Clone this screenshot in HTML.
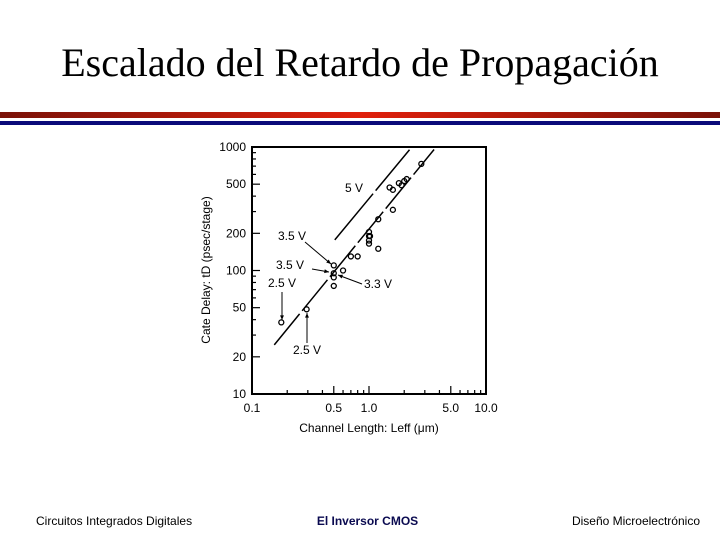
<!DOCTYPE html>
<html><head><meta charset="utf-8"><style>
html,body{margin:0;padding:0;background:#fff}
body{width:720px;height:540px;position:relative;overflow:hidden;font-family:"Liberation Sans",sans-serif}
#title{position:absolute;left:0;top:39px;width:720px;text-align:center;font-family:"Liberation Serif",serif;font-size:40px;color:#000}
.bar1{position:absolute;left:0;top:112px;width:720px;height:6px;background:linear-gradient(90deg,#7a1208,#e0200c 50%,#7a1208)}
.bar2{position:absolute;left:0;top:121px;width:720px;height:4px;background:#0a0a7a}
.foot{position:absolute;top:514px;font-size:12px;color:#000}
svg{position:absolute;left:0;top:0}
</style></head><body>
<div id="title">Escalado del Retardo de Propagación</div>
<div class="bar1"></div>
<div class="bar2"></div>
<div class="foot" style="left:36px">Circuitos Integrados Digitales</div>
<div class="foot" style="left:0;width:735px;text-align:center;font-weight:bold;color:#0a0a50">El Inversor CMOS</div>
<div class="foot" style="right:20px">Diseño Microelectrónico</div>
<svg id="chart" width="720" height="540"></svg>
<script>
const xTicks=[0.1,0.5,1.0,5.0,10.0];
const xTickLabels=["0.1","0.5","1.0","5.0","10.0"];
const yTicks=[10,20,50,100,200,500,1000];
const yTickLabels=["10","20","50","100","200","500","1000"];
const ptX=[0.178,0.293,0.5,0.5,0.5,0.5,0.6,0.7,0.8,1.0,1.0,1.02,1.0,1.0,1.2,1.2,1.5,1.6,1.6,1.8,1.9,2.0,2.1,2.8];
const ptY=[38,48.5,110,95,88,75,100,130,130,190,205,190,175,165,150,260,470,450,310,510,490,530,550,730];
const fitX=[0.155,3.6];
const fitY=[25,955];
const v5X=[0.51,2.22];
const v5Y=[177,950];
const L=252,R=486,T=147,B=394;
const sx=v=>L+(R-L)/2*(Math.log10(v)+1);
const sy=v=>B-(B-T)/2*(Math.log10(v)-1);
const NS="http://www.w3.org/2000/svg";
const svg=document.getElementById('chart');
function mk(t,a){const e=document.createElementNS(NS,t);for(const k in a)e.setAttribute(k,a[k]);svg.appendChild(e);return e;}
let e=mk('rect',{x:L,y:T,width:R-L,height:B-T,fill:'none',stroke:'#000','stroke-width':2});

for(let d=0.1;d<10;d*=10){for(let m=1;m<10;m++){const v=d*m;const x=sx(v);const len=(m==1||m==5)?8:4;
mk('line',{x1:x,x2:x,y1:B,y2:B-len,stroke:'#000','stroke-width':1.2});}}
for(let d=10;d<1000;d*=10){for(let m=1;m<10;m++){const v=d*m;const y=sy(v);const len=(m==1||m==2||m==5)?8:4;
mk('line',{x1:L,x2:L+len,y1:y,y2:y,stroke:'#000','stroke-width':1.2});}}
xTicks.forEach((v,i)=>{e=mk('text',{x:sx(v),y:B+18,'text-anchor':'middle','font-size':12,'font-family':'Liberation Sans'});e.textContent=xTickLabels[i];
});
yTicks.forEach((v,i)=>{e=mk('text',{x:L-6,y:sy(v)+4,'text-anchor':'end','font-size':12,'font-family':'Liberation Sans'});e.textContent=yTickLabels[i];
});
e=mk('text',{x:369,y:432,'text-anchor':'middle','font-size':12});e.textContent='Channel Length: Leff (μm)';

e=mk('text',{x:210,y:270,'text-anchor':'middle','font-size':12,transform:'rotate(-90 210 270)'});e.textContent='Cate Delay: tD (psec/stage)';

e=mk('line',{x1:sx(fitX[0]),y1:sy(fitY[0]),x2:sx(fitX[1]),y2:sy(fitY[1]),stroke:'#000','stroke-width':1.5,'stroke-dasharray':'40 4'});

e=mk('line',{x1:sx(v5X[0]),y1:sy(v5Y[0]),x2:sx(v5X[1]),y2:sy(v5Y[1]),stroke:'#000','stroke-width':1.5,'stroke-dasharray':'60 4'});

ptX.forEach((v,i)=>{e=mk('circle',{cx:sx(v),cy:sy(ptY[i]),r:2.5,fill:'none',stroke:'#000','stroke-width':1.3});
});
const labels=[["5 V",345,192],["3.5 V",278,240],["3.5 V",276,269],["2.5 V",268,287],["3.3 V",364,288],["2.5 V",293,354]];
labels.forEach(l=>{e=mk('text',{x:l[1],y:l[2],'font-size':12});e.textContent=l[0];
});
const arrows=[[305,242,331,264],[312,269,329,272],[362,284,338,275],[282,292,282,320],[307,343,307,313]];
arrows.forEach(a=>{e=mk('line',{x1:a[0],y1:a[1],x2:a[2],y2:a[3],stroke:'#000','stroke-width':1});

const ang=Math.atan2(a[3]-a[1],a[2]-a[0]);const h=5;
mk('polygon',{points:`${a[2]},${a[3]} ${a[2]-h*Math.cos(ang-0.4)},${a[3]-h*Math.sin(ang-0.4)} ${a[2]-h*Math.cos(ang+0.4)},${a[3]-h*Math.sin(ang+0.4)}`,fill:'#000'});});
</script>
</body></html>
